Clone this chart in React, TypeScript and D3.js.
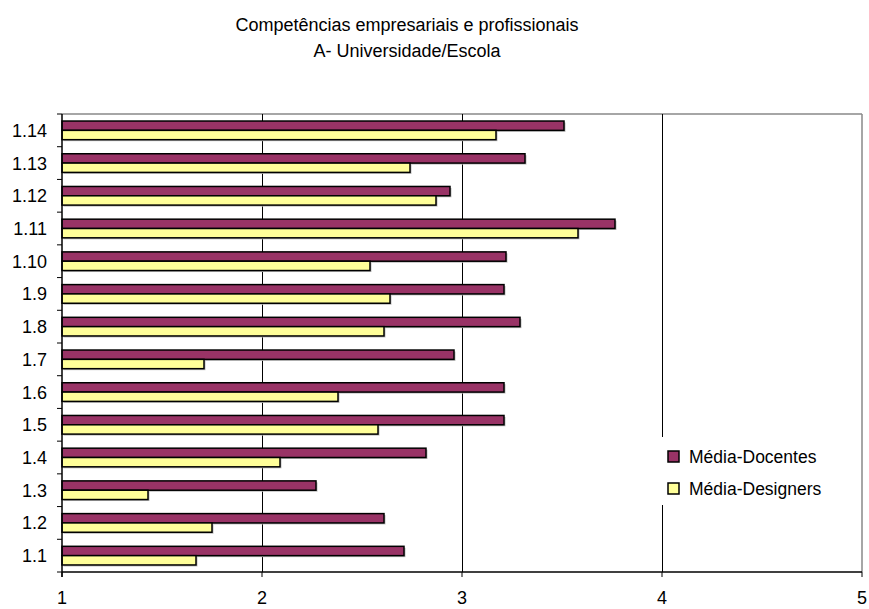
import React, { useEffect, useRef } from "react";
import * as d3 from "d3";

// Competency items (bottom to top on the chart)
const categories = ["1.1", "1.2", "1.3", "1.4", "1.5", "1.6", "1.7", "1.8", "1.9", "1.10", "1.11", "1.12", "1.13", "1.14"];
const mediaDocentes = [2.71, 2.61, 2.27, 2.82, 3.21, 3.21, 2.96, 3.29, 3.21, 3.22, 3.765, 2.94, 3.315, 3.51];
const mediaDesigners = [1.67, 1.75, 1.43, 2.09, 2.58, 2.38, 1.71, 2.61, 2.64, 2.54, 3.58, 2.87, 2.74, 3.17];
const xTicks = [1, 2, 3, 4, 5];
const seriesNames = ["Média-Docentes", "Média-Designers"];
const seriesColors = ["#993366", "#FFFF99"];
const titleLines = ["Competências empresariais e profissionais", "A- Universidade/Escola"];

const W = 869;
const H = 609;
const FONT = "'Liberation Sans', Arial, sans-serif";

export default function App() {
  const ref = useRef<SVGSVGElement>(null);

  useEffect(() => {
    const svg = d3.select(ref.current);
    svg.selectAll("*").remove();

    const left = 62, right = 862, top = 114, bottom = 572;

    const x = d3.scaleLinear().domain([1, 5]).range([left, right]);
    const y = d3.scaleBand<string>().domain([...categories].reverse()).range([top, bottom]).padding(0);
    const barH = y.bandwidth() * 0.285;

    // Title
    const title = svg.append("g").attr("font-family", FONT).attr("fill", "#000").attr("text-anchor", "middle");
    titleLines.forEach((t, i) => {
      title.append("text").attr("x", 407).attr("y", 31 + i * 26).attr("font-size", 18).text(t);
    });

    // Plot frame: gray top and right edges
    svg.append("line").attr("x1", left).attr("x2", right).attr("y1", top).attr("y2", top)
      .attr("stroke", "#888").attr("stroke-width", 1.5);
    svg.append("line").attr("x1", right).attr("x2", right).attr("y1", top).attr("y2", bottom)
      .attr("stroke", "#888").attr("stroke-width", 1.5);

    // Vertical gridlines
    svg.append("g").selectAll("line").data(xTicks.slice(1, -1)).join("line")
      .attr("x1", (d) => x(d) + 0.5).attr("x2", (d) => x(d) + 0.5)
      .attr("y1", top).attr("y2", bottom)
      .attr("stroke", "#000").attr("stroke-width", 1);

    // Bars
    const rows = categories.map((c, i) => ({ c, v: [mediaDocentes[i], mediaDesigners[i]] }));
    const gBars = svg.append("g");
    rows.forEach((r) => {
      const center = (y(r.c) as number) + y.bandwidth() / 2;
      r.v.forEach((v, k) => {
        const by = center - barH + k * barH;
        gBars.append("rect")
          .attr("x", x(1) + 1.5).attr("y", by + 1.5)
          .attr("width", x(v) - x(1)).attr("height", barH)
          .attr("fill", "#bbb");
        gBars.append("rect")
          .attr("x", x(1)).attr("y", by)
          .attr("width", x(v) - x(1)).attr("height", barH)
          .attr("fill", seriesColors[k]).attr("stroke", "#000").attr("stroke-width", 1.5);
      });
    });

    // Y axis
    const yAxis = svg.append("g");
    yAxis.append("line").attr("x1", left).attr("x2", left).attr("y1", top).attr("y2", bottom + 5)
      .attr("stroke", "#000").attr("stroke-width", 1.5);
    const boundaries = [...categories.map((c) => y(c) as number), bottom];
    yAxis.selectAll("line.tick").data(boundaries).join("line").attr("class", "tick")
      .attr("x1", left - 5).attr("x2", left).attr("y1", (d) => d).attr("y2", (d) => d)
      .attr("stroke", "#000").attr("stroke-width", 1);
    yAxis.selectAll("text").data(categories).join("text")
      .attr("x", 47).attr("y", (d) => (y(d) as number) + y.bandwidth() / 2)
      .attr("dy", "0.36em").attr("text-anchor", "end")
      .attr("font-family", FONT).attr("font-size", 18).text((d) => d);

    // X axis
    const xAxis = svg.append("g");
    xAxis.append("line").attr("x1", left).attr("x2", right).attr("y1", bottom).attr("y2", bottom)
      .attr("stroke", "#000").attr("stroke-width", 1.5);
    xAxis.selectAll("line.tick").data(xTicks).join("line").attr("class", "tick")
      .attr("x1", (d) => x(d)).attr("x2", (d) => x(d)).attr("y1", bottom).attr("y2", bottom + 5)
      .attr("stroke", "#000").attr("stroke-width", 1);
    xAxis.selectAll("text").data(xTicks).join("text")
      .attr("x", (d) => x(d)).attr("y", 604)
      .attr("text-anchor", "middle").attr("font-family", FONT).attr("font-size", 18)
      .text((d) => String(d));

    // Legend
    const lg = svg.append("g");
    lg.append("rect").attr("x", 657).attr("y", 437).attr("width", 175).attr("height", 68).attr("fill", "#fff");
    seriesNames.forEach((name, i) => {
      const ly = 451 + i * 32;
      lg.append("rect").attr("x", 668).attr("y", ly).attr("width", 11).attr("height", 11)
        .attr("fill", seriesColors[i]).attr("stroke", "#000").attr("stroke-width", 1.5);
      lg.append("text").attr("x", 689).attr("y", ly + 12).attr("font-family", FONT).attr("font-size", 17.5)
        .text(name);
    });
  }, []);

  return (
    <svg ref={ref} width={W} height={H} style={{ position: "absolute", left: 0, top: 0, background: "#fff" }} />
  );
}
